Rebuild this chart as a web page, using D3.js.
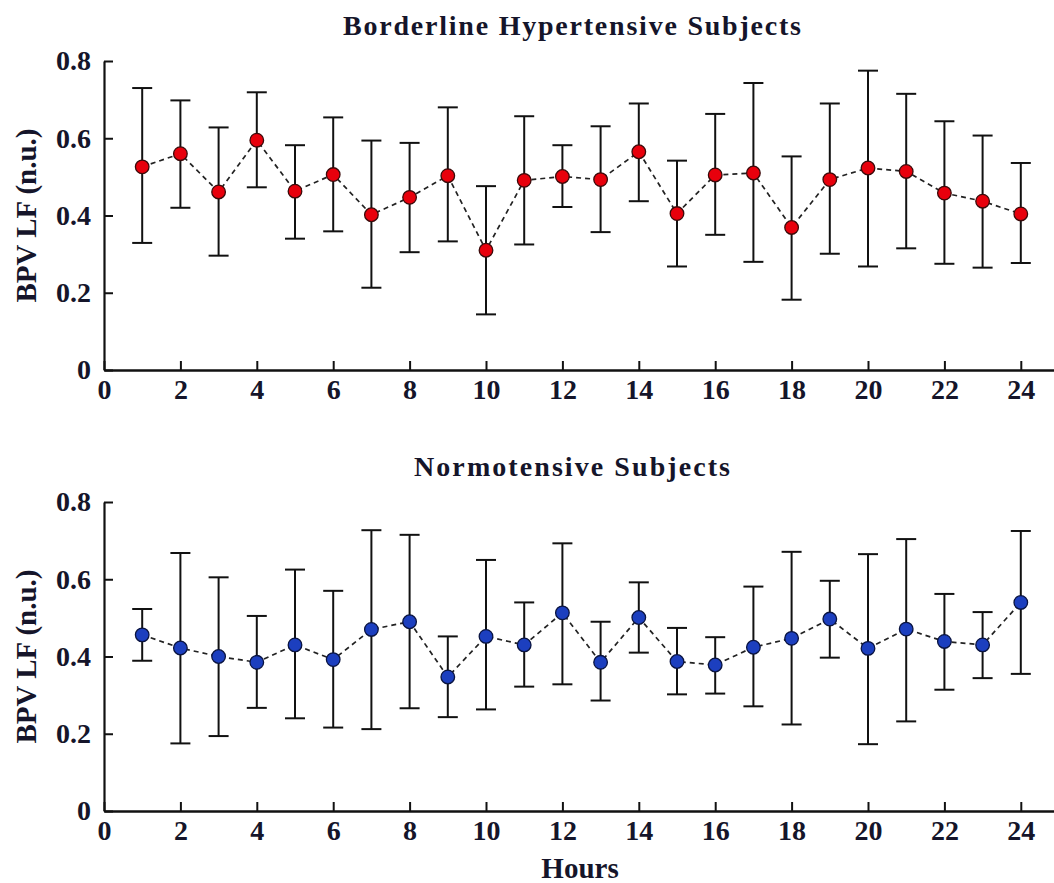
<!DOCTYPE html>
<meta charset="utf-8">
<style>
    body { margin: 0; background: #fff; }
    svg { display: block; }
    text { font-family: "Liberation Serif", "Times New Roman", serif; font-weight: bold; fill: #15152a; }
    .axis path, .axis line { stroke: #111; }
    .axis text { font-size: 28px; }
    .bar { stroke: #111; stroke-width: 2; }
    .trend { fill: none; stroke: #222; stroke-width: 1.7; stroke-dasharray: 5,4; }
</style>
<body>
<svg width="1054" height="883"></svg>
</body>
<script src="https://d3js.org/d3.v7.min.js"></script>
<script>

    var hours = [1, 2, 3, 4, 5, 6, 7, 8, 9, 10, 11, 12, 13, 14, 15, 16, 17, 18, 19, 20, 21, 22, 23, 24];
    var xTicks = [0, 2, 4, 6, 8, 10, 12, 14, 16, 18, 20, 22, 24];
    var yTicks = [0, 0.2, 0.4, 0.6, 0.8];

    // borderline hypertensive: mean, upper and lower error bar ends
    var hyperMean = [0.526, 0.560, 0.461, 0.595, 0.463, 0.506, 0.402, 0.447, 0.503, 0.310, 0.491, 0.501,
                     0.493, 0.565, 0.405, 0.505, 0.510, 0.369, 0.493, 0.523, 0.514, 0.458, 0.437, 0.404];
    var hyperHigh = [0.730, 0.698, 0.628, 0.719, 0.582, 0.654, 0.594, 0.588, 0.680, 0.476, 0.657, 0.582,
                     0.631, 0.690, 0.542, 0.663, 0.743, 0.553, 0.690, 0.775, 0.715, 0.644, 0.607, 0.536];
    var hyperLow  = [0.329, 0.420, 0.296, 0.473, 0.340, 0.359, 0.213, 0.305, 0.333, 0.144, 0.325, 0.422,
                     0.357, 0.437, 0.268, 0.350, 0.280, 0.182, 0.301, 0.268, 0.315, 0.275, 0.265, 0.277];

    // normotensive
    var normMean = [0.456, 0.422, 0.400, 0.385, 0.430, 0.392, 0.470, 0.490, 0.347, 0.452, 0.430, 0.513,
                    0.385, 0.501, 0.387, 0.378, 0.424, 0.447, 0.497, 0.421, 0.471, 0.439, 0.430, 0.540];
    var normHigh = [0.523, 0.668, 0.605, 0.505, 0.625, 0.570, 0.727, 0.715, 0.452, 0.650, 0.540, 0.693,
                    0.490, 0.592, 0.474, 0.450, 0.581, 0.671, 0.596, 0.665, 0.704, 0.562, 0.515, 0.725];
    var normLow  = [0.389, 0.175, 0.194, 0.267, 0.240, 0.216, 0.212, 0.266, 0.243, 0.263, 0.322, 0.328,
                    0.286, 0.410, 0.302, 0.304, 0.271, 0.224, 0.397, 0.173, 0.232, 0.314, 0.344, 0.355];

    var svg = d3.select("svg");

    var x = d3.scaleLinear()
        .domain([0, 25])
        .range([104, 104 + 25 * 38.2]);

    function drawPanel(opts) {
        var y = d3.scaleLinear()
            .domain([0, 0.8])
            .range([opts.y0, opts.y0 - 309]);

        var g = svg.append("g");

        var rows = hours.map(function (h, i) {
            return {h: h, m: opts.mean[i], hi: opts.high[i], lo: opts.low[i]};
        });

        // title
        g.append("text")
            .attr("x", 572)
            .attr("y", opts.y0 - 335)
            .attr("text-anchor", "middle")
            .attr("textLength", opts.titleLen)
            .attr("lengthAdjust", "spacing")
            .style("font-size", "28px")
            .text(opts.title);

        // axes
        g.append("g")
            .attr("class", "axis")
            .attr("transform", "translate(0," + opts.y0 + ")")
            .call(d3.axisBottom(x).tickValues(xTicks).tickSizeInner(-9).tickSizeOuter(0).tickPadding(9)
                .tickFormat(d3.format("d")))
            .call(function (a) {
                a.select(".domain").attr("stroke-width", 2.5);
                a.selectAll(".tick line").attr("stroke-width", 2);
            });

        g.append("g")
            .attr("class", "axis")
            .attr("transform", "translate(" + x(0) + ",0)")
            .call(d3.axisLeft(y).tickValues(yTicks).tickSizeInner(-9).tickSizeOuter(0).tickPadding(13)
                .tickFormat(function (d) { return d === 0 ? "0" : d3.format(".1f")(d); }))
            .call(function (a) {
                a.select(".domain").attr("stroke-width", 2.2);
                a.selectAll(".tick line").attr("stroke-width", 2);
            });

        g.append("text")
            .attr("transform", "translate(36," + y(0.4) + ") rotate(-90)")
            .attr("text-anchor", "middle")
            .style("font-size", "29px")
            .text("BPV LF (n.u.)");

        // error bars
        var bars = g.append("g").selectAll("g")
            .data(rows)
            .enter().append("g");

        bars.append("line")
            .attr("class", "bar")
            .attr("x1", function (d) { return x(d.h); })
            .attr("x2", function (d) { return x(d.h); })
            .attr("y1", function (d) { return y(d.lo); })
            .attr("y2", function (d) { return y(d.hi); });

        ["hi", "lo"].forEach(function (k) {
            bars.append("line")
                .attr("class", "bar")
                .attr("x1", function (d) { return x(d.h) - 10; })
                .attr("x2", function (d) { return x(d.h) + 10; })
                .attr("y1", function (d) { return y(d[k]); })
                .attr("y2", function (d) { return y(d[k]); });
        });

        // dashed connecting line
        g.append("path")
            .datum(rows)
            .attr("class", "trend")
            .attr("d", d3.line()
                .x(function (d) { return x(d.h); })
                .y(function (d) { return y(d.m); }));

        g.append("g").selectAll("circle")
            .data(rows)
            .enter().append("circle")
            .attr("cx", function (d) { return x(d.h); })
            .attr("cy", function (d) { return y(d.m); })
            .attr("r", 6.8)
            .attr("fill", opts.fill)
            .attr("stroke", opts.stroke)
            .attr("stroke-width", 1.3);
    }

    drawPanel({
        title: "Borderline Hypertensive Subjects",
        titleLen: 458,
        y0: 370,
        mean: hyperMean, high: hyperHigh, low: hyperLow,
        fill: "#e8000c", stroke: "#3a0a0a"
    });

    drawPanel({
        title: "Normotensive Subjects",
        titleLen: 316,
        y0: 811,
        mean: normMean, high: normHigh, low: normLow,
        fill: "#1c3fbf", stroke: "#0a1440"
    });

    svg.append("text")
        .attr("x", 580)
        .attr("y", 878)
        .attr("text-anchor", "middle")
        .style("font-size", "29px")
        .text("Hours");

</script>
